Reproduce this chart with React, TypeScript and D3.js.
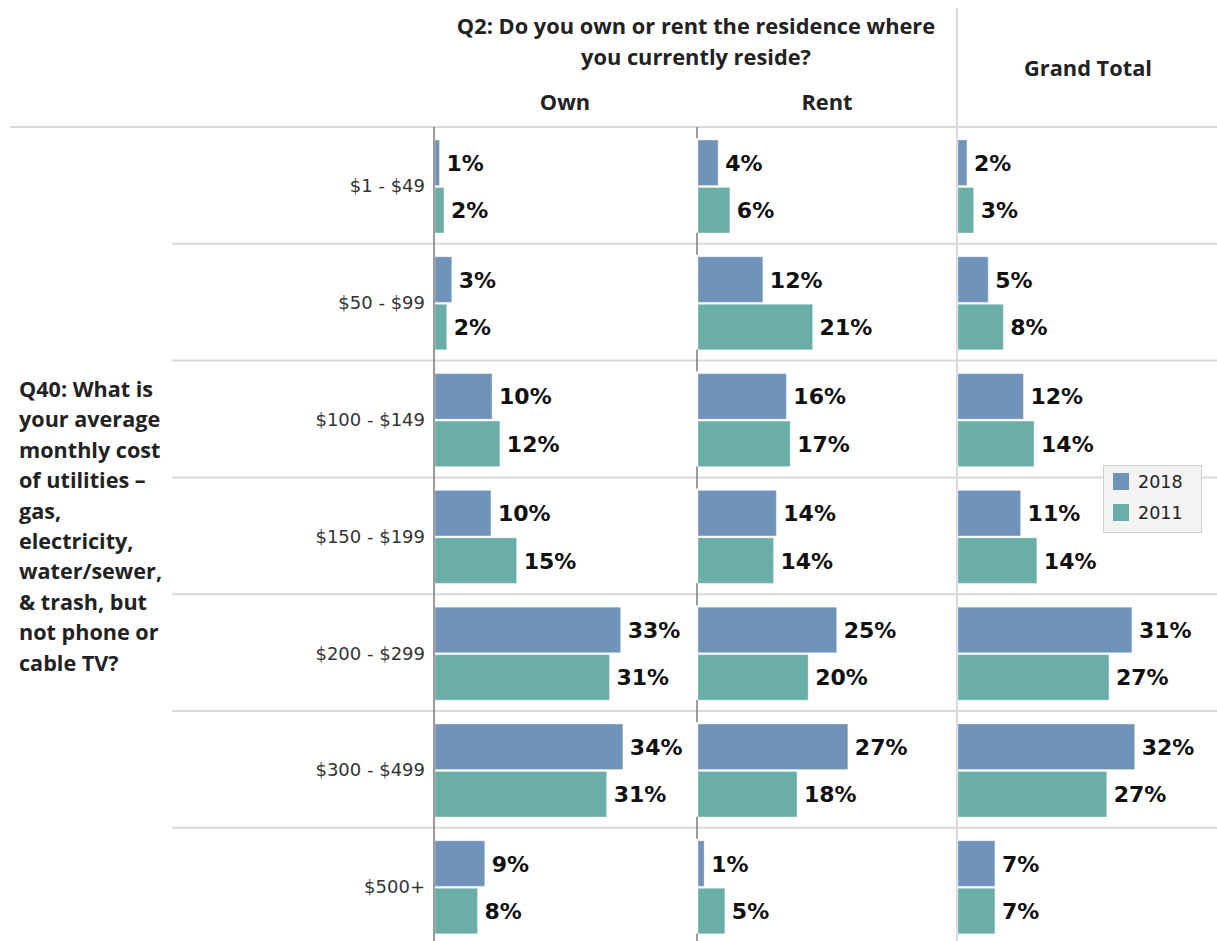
import React from "react";
import * as d3 from "d3";

const categories = ["$1 - $49", "$50 - $99", "$100 - $149", "$150 - $199", "$200 - $299", "$300 - $499", "$500+"];
const panels = ["Own", "Rent", "Grand Total"];
const seriesNames = ["2018", "2011"];

const own2018 = [0.008, 0.03, 0.102, 0.1, 0.332, 0.336, 0.089];
const own2011 = [0.016, 0.021, 0.116, 0.146, 0.312, 0.307, 0.076];
const rent2018 = [0.036, 0.116, 0.158, 0.14, 0.248, 0.268, 0.011];
const rent2011 = [0.057, 0.205, 0.165, 0.135, 0.197, 0.177, 0.048];
const total2018 = [0.016, 0.054, 0.117, 0.112, 0.311, 0.316, 0.066];
const total2011 = [0.028, 0.081, 0.136, 0.141, 0.27, 0.266, 0.066];

const panelData = [
  [own2018, own2011],
  [rent2018, rent2011],
  [total2018, total2011],
];

const colors = ["#7093b9", "#6aaea7"];

const leftTitle = [
  "Q40: What is",
  "your average",
  "monthly cost",
  "of utilities –",
  "gas,",
  "electricity,",
  "water/sewer,",
  "& trash, but",
  "not phone or",
  "cable TV?",
];

const W = 1217;
const H = 941;
const headerFont = "'Open Sans', Lato, sans-serif";
const labelFont = "'DejaVu Sans', Verdana, sans-serif";

export default function App() {
  const rowTop = 127;
  const rowH = 116.8;
  const y = d3
    .scaleBand<string>()
    .domain(categories)
    .range([rowTop, rowTop + rowH * categories.length]);
  const inner = d3
    .scaleBand<string>()
    .domain(seriesNames)
    .range([13, 106])
    .paddingInner(0.04);

  const panelX0 = [434, 697, 957];
  const panelW = 260;
  const x = d3.scaleLinear().domain([0, 0.465]).range([0, panelW]);
  const fmt = d3.format(".0%");

  const borders = categories.map((c) => y(c) as number);

  return (
    <svg
      width={W}
      height={H}
      style={{ position: "absolute", left: 0, top: 0, background: "#fff" }}
    >
      {/* grid lines */}
      <line x1={10} x2={W} y1={127} y2={127} stroke="#d9d9d9" strokeWidth={2} />
      {borders.slice(1).map((b, i) => (
        <line key={i} x1={172} x2={W} y1={b} y2={b} stroke="#d9d9d9" strokeWidth={2} />
      ))}
      <line x1={957} x2={957} y1={8} y2={H} stroke="#d9d9d9" strokeWidth={2} />

      {/* headers */}
      <g fontFamily={headerFont} fontWeight="bold" fontSize={21.8} fill="#222" textAnchor="middle">
        <text x={696} y={34}>Q2: Do you own or rent the residence where</text>
        <text x={696} y={65}>you currently reside?</text>
        <text x={565} y={110}>Own</text>
        <text x={827} y={110}>Rent</text>
        <text x={1088} y={76}>Grand Total</text>
      </g>

      {/* left title */}
      <g fontFamily={headerFont} fontWeight="bold" fontSize={21.6} fill="#222">
        {leftTitle.map((t, i) => (
          <text key={i} x={19} y={397 + i * 30.4}>
            {t}
          </text>
        ))}
      </g>

      {/* row labels */}
      <g fontFamily={labelFont} fontSize={18} fill="#333" textAnchor="end">
        {categories.map((c) => (
          <text key={c} x={425} y={(y(c) as number) + rowH / 2 + 7}>
            {c}
          </text>
        ))}
      </g>

      {/* bars */}
      {panelData.map((series, p) => (
        <g key={panels[p]} transform={`translate(${panelX0[p] + 1},0)`}>
          {series.map((vals, s) =>
            vals.map((v, i) => {
              const by = (y(categories[i]) as number) + (inner(seriesNames[s]) as number);
              const bh = inner.bandwidth();
              return (
                <g key={`${s}-${i}`}>
                  <rect
                    x={0}
                    y={by}
                    width={x(v)}
                    height={bh}
                    fill={colors[s]}
                    stroke="#ffffff"
                    strokeOpacity={0.35}
                    strokeWidth={1}
                  />
                  <text
                    x={x(v) + 7}
                    y={by + bh / 2 + 8}
                    fontFamily={labelFont}
                    fontWeight="bold"
                    fontSize={22}
                    fill="#111"
                  >
                    {fmt(v)}
                  </text>
                </g>
              );
            })
          )}
        </g>
      ))}

      {/* zero lines */}
      <line x1={434} x2={434} y1={127} y2={H} stroke="#7a7a7a" strokeWidth={1.5} />
      {[...borders, rowTop + rowH * categories.length].map((b, i) => (
        <line
          key={i}
          x1={697}
          x2={697}
          y1={Math.max(127, b - 11)}
          y2={Math.min(H, b + 11)}
          stroke="#7a7a7a"
          strokeWidth={1.5}
        />
      ))}

      {/* legend */}
      <g>
        <rect x={1103.5} y={465.5} width={98} height={67} fill="#f3f3f3" stroke="#cfcfcf" />
        {seriesNames.map((s, i) => (
          <g key={s}>
            <rect x={1113} y={473 + i * 31} width={16} height={17} fill={colors[i]} />
            <text
              x={1138}
              y={488 + i * 31}
              fontFamily={labelFont}
              fontSize={17.5}
              fill="#222"
            >
              {s}
            </text>
          </g>
        ))}
      </g>
    </svg>
  );
}
